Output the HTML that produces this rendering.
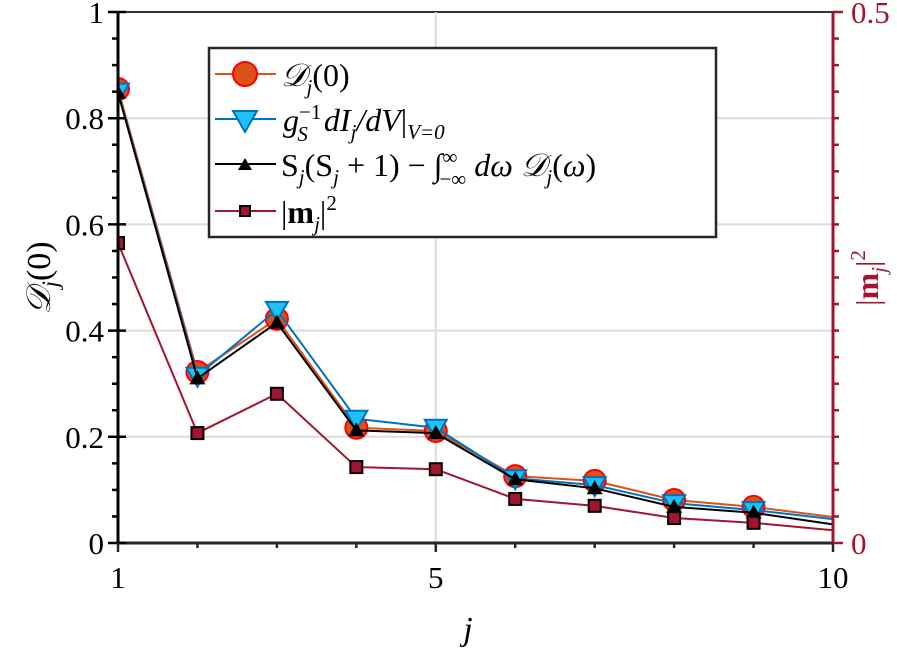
<!DOCTYPE html>
<html><head><meta charset="utf-8"><style>
body{margin:0;background:#fff}
text{font-family:"Liberation Serif",serif}
</style></head><body>
<svg id="chart" width="897" height="649" xmlns="http://www.w3.org/2000/svg">
<defs><clipPath id="plotclip"><rect x="118" y="0" width="715" height="543"/></clipPath></defs>
<g id="grid"></g>
<g id="series" clip-path="url(#plotclip)"></g>
<g id="axes"></g>
<text transform="translate(50,278) rotate(-90)" text-anchor="middle" font-size="34" font-style="italic">𝒟<tspan font-size="23" dy="8">j</tspan><tspan dy="-8" font-style="normal">(0)</tspan></text>
<text x="468" y="640" text-anchor="middle" font-size="34" font-style="italic">j</text>
<text transform="translate(878,278) rotate(-90)" text-anchor="middle" font-size="32" fill="#A2142F">|<tspan font-weight="bold">m</tspan><tspan font-size="21" dy="8" font-style="italic">j</tspan><tspan dy="-8">|</tspan><tspan font-size="21" dy="-13">2</tspan></text>
<g>
<rect x="209" y="48" width="507" height="189" fill="#fff" stroke="#262626" stroke-width="2.5"/>
<g>
<line x1="215" y1="74" x2="276" y2="74" stroke="#D95319" stroke-width="2"/><circle cx="245" cy="74" r="12" fill="#D95319" stroke="#ff0000" stroke-width="2"/>
<text x="281" y="86" font-size="32" font-style="italic">𝒟<tspan font-size="21" dy="8">j</tspan><tspan dy="-8" font-style="normal">(0)</tspan></text></g>
<g>
<line x1="215" y1="119" x2="276" y2="119" stroke="#0072BD" stroke-width="2"/><path d="M233,111 L257,111 L245,132 Z" fill="#1EC0F5" stroke="#0072BD" stroke-width="2"/>
<text x="283" y="131" font-size="32" font-style="italic">g<tspan font-size="21" dy="-12" font-style="normal">−1</tspan><tspan font-size="21" dx="-24" dy="22">S</tspan><tspan dy="-10" dx="8"> dI</tspan><tspan font-size="21" dy="8">j</tspan><tspan dy="-8">/dV</tspan><tspan font-style="normal">|</tspan><tspan font-size="21" dy="8">V=0</tspan></text></g>
<g>
<line x1="215" y1="164" x2="276" y2="164" stroke="#000" stroke-width="2"/><path d="M238,170 L252,170 L245,158 Z" fill="#000"/>
<text x="281" y="176" font-size="32">S<tspan font-size="21" dy="8" font-style="italic">j</tspan><tspan dy="-8">(S</tspan><tspan font-size="21" dy="8" font-style="italic">j</tspan><tspan dy="-8"> + 1) − ∫</tspan><tspan font-size="21" dy="-12">∞</tspan><tspan font-size="21" dx="-18" dy="22">−∞</tspan><tspan dy="-10" font-style="italic"> dω 𝒟</tspan><tspan font-size="21" dy="8" font-style="italic">j</tspan><tspan dy="-8">(<tspan font-style="italic">ω</tspan>)</tspan></text></g>
<g>
<line x1="215" y1="211" x2="276" y2="211" stroke="#A2142F" stroke-width="2"/><rect x="240" y="206" width="10" height="10" fill="#A2142F" stroke="#000" stroke-width="2"/>
<text x="281" y="223" font-size="32">|<tspan font-weight="bold">m</tspan><tspan font-size="21" dy="8" font-style="italic">j</tspan><tspan dy="-8">|</tspan><tspan font-size="21" dy="-13">2</tspan></text></g>
</g>
</svg>
<script>
const js=[1,2,3,4,5,6,7,8,9,10];
const dZero=[0.855,0.322,0.422,0.217,0.211,0.126,0.117,0.081,0.068,0.049];
const dIdV=[0.85,0.315,0.439,0.234,0.217,0.122,0.109,0.075,0.062,0.045];
const sumRule=[0.848,0.31,0.415,0.212,0.207,0.12,0.103,0.068,0.057,0.035];
const mSq=[0.2825,0.1035,0.1405,0.0715,0.0695,0.0415,0.035,0.0235,0.019,0.012];
const yTicks=[0,0.2,0.4,0.6,0.8,1];
const yTickLabels=["0","0.2","0.4","0.6","0.8","1"];
const xTicks=[1,5,10];
const rTicks=[0,0.5];
const rTickLabels=["0","0.5"];
const L=118,R=833,T=12,B=543;
const X=v=>L+(v-1)/9*(R-L);
const Y=v=>B-v*(B-T);
const YR=v=>B-v/0.5*(B-T);
const NS="http://www.w3.org/2000/svg";
function mk(p,t,a){const e=document.createElementNS(NS,t);for(const k in a)e.setAttribute(k,a[k]);p.appendChild(e);return e;}
const grid=document.getElementById('grid'),ser=document.getElementById('series'),ax=document.getElementById('axes');
yTicks.forEach(v=>{const l=mk(grid,'line',{x1:L,x2:R,y1:Y(v),y2:Y(v),stroke:v===1?'#333':'#dcdcdc','stroke-width':2});

});
xTicks.forEach(v=>{const l=mk(grid,'line',{x1:X(v),x2:X(v),y1:T,y2:B,stroke:'#dcdcdc','stroke-width':2});

});
const mk10=js.length-1;
function line(vals,f,color,name){const g=mk(ser,'g',{});


mk(g,'polyline',{points:vals.map((v,i)=>X(js[i])+','+f(v)).join(' '),fill:'none',stroke:color,'stroke-width':2});return g;}
let g=line(dZero,Y,'#D95319','series-d0');
dZero.forEach((v,i)=>{if(i===mk10)return;const c=mk(g,'circle',{cx:X(js[i]),cy:Y(v),r:11,fill:'#D95319',stroke:'#ff0000','stroke-width':2});

});
g=line(dIdV,Y,'#0072BD','series-didv');
dIdV.forEach((v,i)=>{if(i===mk10)return;const x=X(js[i]),y=Y(v);const p=mk(g,'path',{d:`M${x-11},${y-8}L${x+11},${y-8}L${x},${y+11}Z`,fill:'#1EC0F5',stroke:'#0072BD','stroke-width':2});

});
g=line(sumRule,Y,'#000','series-sum-rule');
sumRule.forEach((v,i)=>{if(i===mk10)return;const x=X(js[i]),y=Y(v);const p=mk(g,'path',{d:`M${x-8},${y+6}L${x+8},${y+6}L${x},${y-8}Z`,fill:'#000'});

});
g=line(mSq,YR,'#A2142F','series-m2');
mSq.forEach((v,i)=>{if(i===mk10)return;const x=X(js[i]),y=YR(v);const r=mk(g,'rect',{x:x-6,y:y-6,width:12,height:12,fill:'#A2142F',stroke:'#000','stroke-width':2});

});
mk(ax,'line',{x1:L,x2:L,y1:T,y2:B,stroke:'#000','stroke-width':3});
mk(ax,'line',{x1:L,x2:R,y1:B,y2:B,stroke:'#262626','stroke-width':3});
mk(ax,'line',{x1:R,x2:R,y1:T,y2:B,stroke:'#A2142F','stroke-width':3});
for(let k=0;k<=20;k++){const v=k*0.05;const big=k%4===0;mk(ax,'line',{x1:big?L-10:L-6,x2:big?L+8:L,y1:Y(v),y2:Y(v),stroke:'#000','stroke-width':2.5});}
yTicks.forEach((v,i)=>{const t=mk(ax,'text',{x:L-14,y:Y(v)+11,'text-anchor':'end','font-size':31});t.textContent=yTickLabels[i];

});
for(let j=1;j<=10;j++){mk(ax,'line',{x1:X(j),x2:X(j),y1:B,y2:B+(j==1||j==5||j==10?9:5),stroke:'#262626','stroke-width':2.5});}
xTicks.forEach(v=>{const t=mk(ax,'text',{x:X(v),y:B+45,'text-anchor':'middle','font-size':31});t.textContent=String(v);

});
for(let k=0;k<=20;k++){const v=k*0.025;const big=k%20===0;mk(ax,'line',{x1:R,x2:R+(big?10:6),y1:YR(v),y2:YR(v),stroke:'#A2142F','stroke-width':2.5});}
rTicks.forEach((v,i)=>{const t=mk(ax,'text',{x:R+18,y:YR(v)+11,'font-size':31,fill:'#A2142F'});t.textContent=rTickLabels[i];

});
</script>
</body></html>
